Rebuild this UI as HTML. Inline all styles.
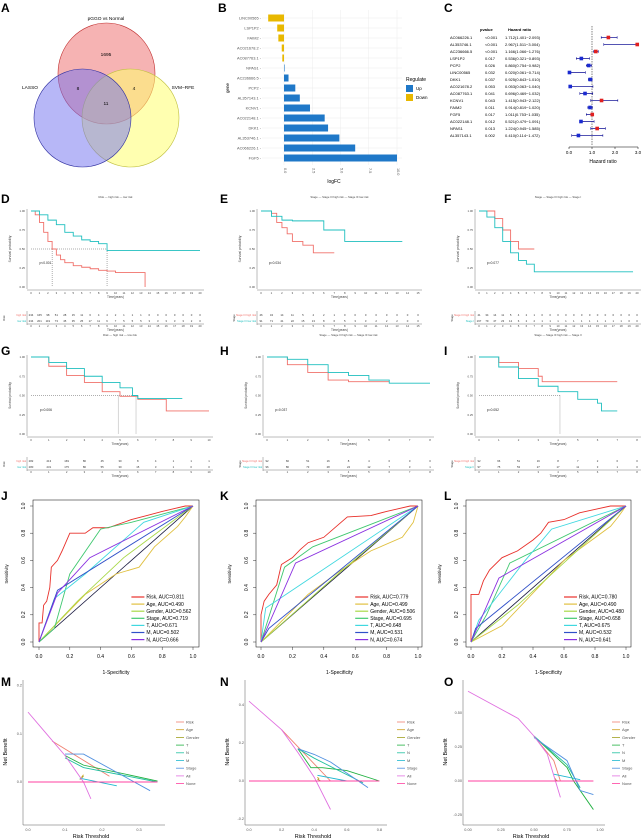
<!DOCTYPE html>
<html><head><meta charset="utf-8"><style>
body{margin:0;background:#fff}
svg{display:block;font-family:"Liberation Sans",sans-serif}
</style></head><body>
<svg id="fig" width="644" height="840" viewBox="0 0 644 840">
<g font-weight="bold" font-size="12">
<text x="1" y="12">A</text><text x="218" y="12">B</text><text x="444" y="12">C</text>
<text x="1" y="203">D</text><text x="220" y="203">E</text><text x="444" y="203">F</text>
<text x="1" y="355">G</text><text x="220" y="355">H</text><text x="444" y="355">I</text>
<text x="1" y="500">J</text><text x="220" y="500">K</text><text x="444" y="500">L</text>
<text x="1" y="686">M</text><text x="220" y="686">N</text><text x="444" y="686">O</text>
</g>
<g>
<ellipse cx="106.5" cy="73.5" rx="48.5" ry="50.5" fill="#f08080" fill-opacity="0.6" stroke="#c03030" stroke-width="0.6"/>
<ellipse cx="130.5" cy="118" rx="48.5" ry="49" fill="#ffff70" fill-opacity="0.55" stroke="#c0c040" stroke-width="0.6"/>
<ellipse cx="82.5" cy="118" rx="48.5" ry="49" fill="#7070f0" fill-opacity="0.5" stroke="#3030a0" stroke-width="0.6"/>
<g font-size="4.8" text-anchor="middle">
<text x="106" y="20">pGGO vs Normal</text><text x="106" y="56">1695</text>
<text x="30" y="89">LASSO</text><text x="183" y="89">SVM−RFE</text>
<text x="78" y="90">8</text><text x="134" y="90">4</text><text x="106" y="105">11</text>
</g></g>
<g id="pB"></g>
<g id="pC"></g>
<g id="km"></g>
<g id="roc"></g>
<g id="dca"></g>
</svg>
<script>
const NS="http://www.w3.org/2000/svg";
function mk(p,t,a,txt){const e=document.createElementNS(NS,t);for(const k in a)e.setAttribute(k,a[k]);if(txt!==undefined)e.textContent=txt;p.appendChild(e);return e;}

// ---- B data
const bGenes=["LINC00565","LSP1P2","FAIM2","AC021678.2","AC087763.1","NPAS1","AC236666.5","PCP2","AL357143.1","KCNV1","AC022148.1","DKK1","AL353746.1","AC066226.1","FGF5"];
const bLogFC=[-1.4,-0.6,-0.5,-0.2,-0.15,0.05,0.4,1.0,1.4,2.3,3.6,3.9,4.9,6.3,10];
const bTicks=[0,2.5,5,7.5,10];
// ---- C data
const cGenes=["AC066226.1","AL353746.1","AC236666.5","LSP1P2","PCP2","LINC00565","DKK1","AC021678.2","AC087763.1","KCNV1","FAIM2","FGF5","AC022148.1","NPAS1","AL357143.1"];
const cP=["<0.001","<0.001","<0.001","0.017","0.026","0.032","0.037","0.053","0.041","0.043","0.011","0.017","0.012","0.013","0.002"];
const cHR=[1.712,2.967,1.166,0.536,0.860,0.020,0.925,0.053,0.696,1.415,0.914,1.011,0.521,1.224,0.410];
const cLo=[1.401,1.511,1.066,0.321,0.754,0.061,0.843,0.063,0.469,0.943,0.819,0.753,0.479,0.945,0.114];
const cHi=[2.093,3.004,1.276,0.893,0.982,0.714,1.010,1.040,1.032,2.122,1.020,1.035,1.091,1.585,1.472];
const cTicks=[0,1,2,3];

(function(){
 const g=document.getElementById("pB");
 const x0=284,sx=11.3,y0=18,step=10;
 const X=v=>x0+v*sx;
 bTicks.forEach(t=>{mk(g,"line",{x1:X(t),x2:X(t),y1:10,y2:165,stroke:"#ececec","stroke-width":0.5});
  mk(g,"text",{x:X(t),y:168,"font-size":3.8,fill:"#555",transform:`rotate(90 ${X(t)} 168)`},t.toFixed(1));});
 bGenes.forEach((n,i)=>{const y=y0+i*step;const v=bLogFC[i];
  mk(g,"line",{x1:262,x2:402,y1:y,y2:y,stroke:"#ececec","stroke-width":0.5});
  const r=mk(g,"rect",{x:Math.min(X(0),X(v)),y:y-3.5,width:Math.abs(v*sx),height:7,fill:v>0?"#1f78c8":"#e8b800"});
  
  
  mk(g,"text",{x:261,y:y+1.4,"font-size":3.9,fill:"#555","text-anchor":"end"},n+" -");});
 mk(g,"text",{x:334,y:183,"font-size":5,"text-anchor":"middle"},"logFC");
 mk(g,"text",{x:229,y:88,"font-size":4.5,"text-anchor":"middle",transform:"rotate(-90 229 88)"},"gene");
 mk(g,"text",{x:406,y:81,"font-size":5},"Regulate");
 mk(g,"rect",{x:406,y:85,width:7,height:7,fill:"#1f78c8"});mk(g,"text",{x:416,y:90,"font-size":4.5},"Up");
 mk(g,"rect",{x:406,y:94,width:7,height:7,fill:"#e8b800"});mk(g,"text",{x:416,y:99,"font-size":4.5},"Down");
})();

(function(){
 const g=document.getElementById("pC");
 const X=v=>569+v*23,y0=37.5,st=7;
 mk(g,"text",{x:480,y:31,"font-size":4,"font-weight":"bold"},"pvalue");
 mk(g,"text",{x:508,y:31,"font-size":4,"font-weight":"bold"},"Hazard ratio");
 mk(g,"line",{x1:X(1),x2:X(1),y1:26,y2:146,stroke:"#333","stroke-width":0.6,"stroke-dasharray":"1.5,1"});
 cGenes.forEach((n,i)=>{const y=y0+i*st;
  mk(g,"text",{x:450,y:y+1.4,"font-size":4},n);
  mk(g,"text",{x:485,y:y+1.4,"font-size":4},cP[i]);
  mk(g,"text",{x:505,y:y+1.4,"font-size":4},cHR[i].toFixed(3)+"("+cLo[i].toFixed(3)+"−"+cHi[i].toFixed(3)+")");
  mk(g,"line",{x1:X(cLo[i]),x2:X(cHi[i]),y1:y,y2:y,stroke:"#1a1a9a","stroke-width":0.8});
  mk(g,"line",{x1:X(cLo[i]),x2:X(cLo[i]),y1:y-1.3,y2:y+1.3,stroke:"#1a1a9a","stroke-width":0.6});
  mk(g,"line",{x1:X(cHi[i]),x2:X(cHi[i]),y1:y-1.3,y2:y+1.3,stroke:"#1a1a9a","stroke-width":0.6});
  const c=mk(g,"rect",{x:X(cHR[i])-1.8,y:y-1.8,width:3.6,height:3.6,fill:cHR[i]>1?"#e02020":"#1a2ad0"});
  
  });
 mk(g,"line",{x1:X(0),x2:X(3),y1:147,y2:147,stroke:"#000","stroke-width":0.6});
 cTicks.forEach(t=>{mk(g,"line",{x1:X(t),x2:X(t),y1:147,y2:149,stroke:"#000","stroke-width":0.5});
  mk(g,"text",{x:X(t),y:154,"font-size":4.5,"text-anchor":"middle"},t.toFixed(1));});
 mk(g,"text",{x:603,y:163,"font-size":5,"text-anchor":"middle"},"Hazard ratio");
})();

// ---- KM data: [time, survival] steps
const kmD_hi=[[0,1],[0.5,0.95],[1,0.85],[1.5,0.72],[2,0.6],[2.5,0.5],[3,0.42],[3.5,0.36],[4,0.32],[5,0.28],[6,0.26],[7,0.24],[8,0.22],[9,0.21],[10,0.19],[13.5,0.19],[13.5,0]];
const kmD_lo=[[0,1],[1,0.95],[2,0.88],[3,0.82],[4,0.72],[5,0.67],[6,0.62],[7,0.6],[8,0.57],[9,0.48],[20,0.48]];
const kmE_hi=[[0,1],[1,0.97],[1.5,0.85],[2,0.78],[2.5,0.7],[3,0.6],[4,0.55],[5,0.45],[7,0.45]];
const kmE_lo=[[0,1],[1,0.93],[2,0.88],[3,0.87],[6,0.75],[8,0.6],[13.5,0.6]];
const kmF_hi=[[0,1],[1,1],[2,0.9],[3,0.75],[4,0.6],[5,0.5],[7,0.5]];
const kmF_lo=[[0,1],[1,0.92],[2,0.78],[3,0.6],[4,0.45],[5,0.35],[6,0.3],[7,0.2],[19.5,0.2]];
const kmG_hi=[[0,1],[1,0.88],[2,0.76],[3,0.67],[4,0.55],[5,0.49],[6,0.45],[7.5,0.45],[7.6,0.3],[10,0.3]];
const kmG_lo=[[0,1],[1,0.93],[2,0.85],[3,0.75],[4,0.67],[5,0.6],[5.7,0.5],[6,0.46],[8.5,0.46]];
const kmH_hi=[[0,1],[1,0.9],[2,0.8],[3,0.7],[4,0.68],[6,0.68]];
const kmH_lo=[[0,1],[1,0.97],[2,0.9],[3,0.8],[4,0.76],[5,0.7],[6,0.66],[8,0.66]];
const kmI_hi=[[0,1],[1,0.93],[2,0.85],[3,0.75],[3.2,0.68],[7,0.68]];
const kmI_lo=[[0,1],[1,0.87],[2,0.72],[3,0.62],[4,0.55],[5,0.45],[6,0.4],[6.2,0.3],[7,0.3]];
const riskD_hi=[234,165,98,51,28,15,11,6,4,4,2,1,1,1,0,0,0,0,0,0,0];
const riskD_lo=[234,201,119,73,45,35,25,17,11,6,7,5,5,5,3,3,3,3,3,2,0];
const riskE_hi=[46,34,14,11,5,4,2,1,0,0,0,0,0,0,0,0];
const riskE_lo=[91,71,41,22,15,13,8,6,5,3,3,2,2,2,0,0];
const riskF_hi=[41,34,14,11,5,4,2,1,0,0,0,0,0,0,0,0,0,0,0,0,0];
const riskF_lo=[167,79,47,23,12,6,2,2,1,1,1,1,1,1,1,1,1,1,1,0,0];
const riskG_hi=[282,213,169,86,45,30,8,4,1,1,1];
const riskG_lo=[280,231,175,86,55,30,15,3,1,0,0];
const riskH_hi=[92,66,51,16,8,4,0,0,0];
const riskH_lo=[96,86,73,28,24,12,7,3,1];
const riskI_hi=[92,66,51,16,8,7,2,0,0];
const riskI_lo=[97,75,53,27,17,11,3,1,0];
const kmP=["p<0.001","p=0.034","p=0.077","p=0.006","p=0.037","p=0.052"];
const kmMed=[[2.5,9],[],[],[4.9,5.9],[],[4.1]];

(function(){
 const g=document.getElementById("km");
 const RED="#f0706a",TEAL="#1fbfbf";
 const P=[
  {n:"D",xa:31,xb:200,tmax:20,yt:211,yb:287,hi:kmD_hi,lo:kmD_lo,rh:riskD_hi,rl:riskD_lo,rt:315,lab:["high risk","low risk"],st:"Risk"},
  {n:"E",xa:261,xb:418,tmax:15,yt:211,yb:287,hi:kmE_hi,lo:kmE_lo,rh:riskE_hi,rl:riskE_lo,rt:315,lab:["Stage III high risk","Stage III low risk"],st:"Stage"},
  {n:"F",xa:479,xb:637,tmax:20,yt:211,yb:287,hi:kmF_hi,lo:kmF_lo,rh:riskF_hi,rl:riskF_lo,rt:315,lab:["Stage III high risk","Stage I"],st:"Stage"},
  {n:"G",xa:31,xb:209,tmax:10,yt:357,yb:434,hi:kmG_hi,lo:kmG_lo,rh:riskG_hi,rl:riskG_lo,rt:461,lab:["high risk","low risk"],st:"Risk"},
  {n:"H",xa:267,xb:430,tmax:8,yt:357,yb:434,hi:kmH_hi,lo:kmH_lo,rh:riskH_hi,rl:riskH_lo,rt:461,lab:["Stage III high risk","Stage III low risk"],st:"Stage"},
  {n:"I",xa:479,xb:637,tmax:8,yt:357,yb:434,hi:kmI_hi,lo:kmI_lo,rh:riskI_hi,rl:riskI_lo,rt:461,lab:["Stage III high risk","Stage II"],st:"Stage"}];
 P.forEach((p,pi)=>{
  const X=t=>p.xa+t/p.tmax*(p.xb-p.xa),Y=s=>p.yb-s*(p.yb-p.yt);
  const lg=p.yt-(pi<3?13:21);
  const cx=(p.xa+p.xb)/2;
  mk(g,"text",{x:cx,y:lg,"font-size":2.8,"text-anchor":"middle",fill:"#444"},p.st+"  — "+p.lab[0]+"  — "+p.lab[1]);
  [0,0.25,0.5,0.75,1].forEach(s=>mk(g,"text",{x:p.xa-6,y:Y(s)+1,"font-size":2.8,"text-anchor":"end",fill:"#444"},s.toFixed(2)));
  mk(g,"text",{x:p.xa-20,y:(p.yt+p.yb)/2,"font-size":3.2,"text-anchor":"middle",fill:"#444",transform:`rotate(-90 ${p.xa-20} ${(p.yt+p.yb)/2})`},"Survival probability");
  mk(g,"line",{x1:p.xa-4,x2:p.xa-4,y1:p.yt-2,y2:p.yb+2,stroke:"#555","stroke-width":0.4});
  mk(g,"line",{x1:p.xa-4,x2:p.xb+4,y1:p.yb+3,y2:p.yb+3,stroke:"#555","stroke-width":0.4});
  for(let t=0;t<=p.tmax;t++){mk(g,"text",{x:X(t),y:p.yb+7,"font-size":2.8,"text-anchor":"middle",fill:"#444"},t);
   mk(g,"text",{x:X(t),y:p.rt+12,"font-size":2.8,"text-anchor":"middle",fill:"#444"},t);}
  mk(g,"text",{x:cx,y:p.yb+11,"font-size":3.2,"text-anchor":"middle",fill:"#444"},"Time(years)");
  mk(g,"text",{x:cx,y:p.rt+16,"font-size":3.2,"text-anchor":"middle",fill:"#444"},"Time(years)");
  mk(g,"text",{x:X(p.tmax*0.05),y:Y(0.3),"font-size":3.3,fill:"#222"},kmP[pi]);
  if(kmMed[pi].length){mk(g,"line",{x1:X(0),x2:X(Math.max(...kmMed[pi])),y1:Y(0.5),y2:Y(0.5),stroke:"#333","stroke-width":0.4,"stroke-dasharray":"1,1"});
   kmMed[pi].forEach(m=>mk(g,"line",{x1:X(m),x2:X(m),y1:Y(0.5),y2:p.yb,stroke:"#333","stroke-width":0.4,"stroke-dasharray":"1,1"}));}
  [[p.hi,RED,"high"],[p.lo,TEAL,"low"]].forEach(([d,c,k])=>{
   let s=`M${X(d[0][0])},${Y(d[0][1])}`;
   for(let i=1;i<d.length;i++)s+=`H${X(d[i][0])}V${Y(d[i][1])}`;
   const pa=mk(g,"path",{d:s,fill:"none",stroke:c,"stroke-width":0.9});
   
   });
  mk(g,"line",{x1:p.xa-4,x2:p.xa-4,y1:p.rt-4,y2:p.rt+10,stroke:"#555","stroke-width":0.4});
  mk(g,"line",{x1:p.xa-4,x2:p.xb+4,y1:p.rt+9,y2:p.rt+9,stroke:"#555","stroke-width":0.4});
  mk(g,"text",{x:p.xa-26,y:p.rt+3,"font-size":2.8,"text-anchor":"middle",fill:"#333",transform:`rotate(-90 ${p.xa-26} ${p.rt+3})`},p.st);
  mk(g,"text",{x:p.xa-5,y:p.rt+1,"font-size":2.6,"text-anchor":"end",fill:RED},p.lab[0]);
  mk(g,"text",{x:p.xa-5,y:p.rt+7,"font-size":2.6,"text-anchor":"end",fill:TEAL},p.lab[1]);
  p.rh.forEach((v,i)=>mk(g,"text",{x:X(i),y:p.rt+1,"font-size":2.8,"text-anchor":"middle",fill:"#333"},v));
  p.rl.forEach((v,i)=>mk(g,"text",{x:X(i),y:p.rt+7,"font-size":2.8,"text-anchor":"middle",fill:"#333"},v));
 });
})();

// ---- ROC data: [fpr,tpr]
const rocNames=["Risk","Age","Gender","Stage","T","M","N"];
const rocColors=["#e8302a","#e0c040","#a8d848","#40c870","#40d8e0","#3050c8","#8a30e0"];
const aucJ=[0.811,0.490,0.562,0.719,0.671,0.502,0.666];
const aucK=[0.779,0.499,0.506,0.695,0.648,0.531,0.674];
const aucL=[0.780,0.490,0.480,0.658,0.675,0.532,0.641];
const rocJ=[
 [[0,0],[0,0.14],[0.02,0.14],[0.03,0.27],[0.05,0.3],[0.07,0.4],[0.08,0.55],[0.12,0.6],[0.15,0.67],[0.2,0.8],[0.3,0.8],[0.35,0.84],[0.45,0.84],[0.6,0.9],[0.7,0.93],[0.8,0.96],[0.95,1],[1,1]],
 [[0,0],[0.3,0.35],[0.5,0.5],[0.65,0.55],[0.75,0.7],[0.9,0.85],[0.95,0.92],[1,1]],
 [[0,0],[0.25,0.3],[0.55,0.62],[1,1]],
 [[0,0],[0.1,0.1],[0.2,0.5],[0.4,0.83],[0.6,0.88],[1,1]],
 [[0,0],[0.1,0.32],[0.3,0.5],[0.68,0.88],[1,1]],
 [[0,0],[0.12,0.38],[1,1]],
 [[0,0],[0.12,0.36],[0.33,0.62],[1,1]]];
const rocK=[
 [[0,0],[0,0.2],[0.02,0.3],[0.05,0.35],[0.1,0.42],[0.13,0.57],[0.2,0.62],[0.25,0.68],[0.3,0.73],[0.4,0.77],[0.5,0.87],[0.55,0.92],[0.7,0.93],[0.8,0.96],[0.95,1],[1,1]],
 [[0,0],[0.3,0.35],[0.5,0.52],[0.7,0.67],[0.9,0.77],[0.97,0.88],[1,1]],
 [[0,0],[0.5,0.51],[1,1]],
 [[0,0],[0.15,0.55],[0.33,0.7],[1,1]],
 [[0,0],[0.03,0.25],[0.25,0.42],[1,1]],
 [[0,0],[0.05,0.1],[1,1]],
 [[0,0],[0.22,0.58],[1,1]]];
const rocL=[
 [[0,0],[0,0.35],[0.05,0.35],[0.08,0.45],[0.12,0.53],[0.2,0.62],[0.3,0.67],[0.4,0.75],[0.45,0.8],[0.5,0.88],[0.6,0.9],[0.7,0.95],[0.9,1],[1,1]],
 [[0,0],[0.2,0.12],[0.6,0.6],[0.9,0.85],[0.95,0.92],[1,1]],
 [[0,0],[0.3,0.27],[1,1]],
 [[0,0],[0.1,0.2],[0.25,0.58],[1,1]],
 [[0,0],[0.05,0.16],[0.35,0.6],[0.52,0.83],[1,1]],
 [[0,0],[0.03,0.1],[1,1]],
 [[0,0],[0.18,0.47],[1,1]]];
(function(){
 const g=document.getElementById("roc");
 const P=[{n:"J",bx:33,bw:166,x0:39,x1:193,d:rocJ,a:aucJ},{n:"K",bx:256,bw:166,x0:261,x1:418,d:rocK,a:aucK},{n:"L",bx:466,bw:165,x0:471,x1:626,d:rocL,a:aucL}];
 const yt=506,yb=642;
 P.forEach(p=>{
  const X=v=>p.x0+v*(p.x1-p.x0),Y=v=>yb-v*(yb-yt);
  mk(g,"rect",{x:p.bx,y:500,width:p.bw,height:147,fill:"none",stroke:"#000","stroke-width":0.5});
  [0,0.2,0.4,0.6,0.8,1].forEach(t=>{
   mk(g,"line",{x1:X(t),x2:X(t),y1:647,y2:650,stroke:"#000","stroke-width":0.4});
   mk(g,"text",{x:X(t),y:658,"font-size":5,"text-anchor":"middle"},t.toFixed(1));
   mk(g,"line",{x1:p.bx,x2:p.bx-3,y1:Y(t),y2:Y(t),stroke:"#000","stroke-width":0.4});
   mk(g,"text",{x:p.bx-8,y:Y(t),"font-size":5,"text-anchor":"middle",transform:`rotate(-90 ${p.bx-8} ${Y(t)})`},t.toFixed(1));});
  mk(g,"text",{x:(p.x0+p.x1)/2,y:674,"font-size":5,"text-anchor":"middle"},"1-Specificity");
  mk(g,"text",{x:p.bx-25,y:574,"font-size":4.3,"text-anchor":"middle",transform:`rotate(-90 ${p.bx-25} 574)`},"Sensitivity");
  mk(g,"line",{x1:X(0),y1:Y(0),x2:X(1),y2:Y(1),stroke:"#1a1a40","stroke-width":0.8});
  p.d.forEach((s,i)=>{
   const pl=mk(g,"polyline",{points:s.map(q=>X(q[0])+","+Y(q[1])).join(" "),fill:"none",stroke:rocColors[i],"stroke-width":0.9});
   
   
   const ly=597+i*7.1,lx=X(0.6);
   mk(g,"line",{x1:lx,x2:lx+13,y1:ly,y2:ly,stroke:rocColors[i],"stroke-width":1.2});
   mk(g,"text",{x:lx+15,y:ly+1.7,"font-size":5},rocNames[i]+", AUC="+p.a[i].toFixed(3));});
 });
})();

// ---- DCA data: [threshold, net benefit]
const dcaNames=["Risk","Age","Gender","T","N","M","Stage","All","None"];
const dcaColors=["#f08070","#d0a020","#a0a020","#20b040","#20c0a0","#20b8d0","#5090e0","#e070e0","#ff40a0"];
const dcaM=[[[0.065,0.085],[0.22,0.012]],[[0.145,0.01],[0.15,0.015]],[[0.14,0.005],[0.15,0.012]],[[0.1,0.055],[0.15,0.035],[0.35,0.002]],[[0.1,0.05],[0.15,0.03],[0.35,0]],[[0.14,0.008],[0.24,-0.008]],[[0.1,0.058],[0.15,0.058],[0.33,-0.018]],[[0,0.145],[0.05,0.1],[0.1,0.055],[0.15,0],[0.17,-0.035]],[[0,0],[0.35,0]]];
const dcaN=[[[0.2,0.27],[0.5,0.0]],[[0.42,0.02],[0.43,0.01]],[[0.42,0.01],[0.44,0]],[[0.3,0.17],[0.38,0.07],[0.45,0.07],[0.6,0.055],[0.8,0]],[[0.3,0.17],[0.4,0.12],[0.7,-0.01]],[[0.42,0.03],[0.6,0]],[[0.3,0.17],[0.4,0.14],[0.5,0.1],[0.73,-0.035]],[[0,0.42],[0.2,0.27],[0.3,0.15],[0.4,0.02],[0.5,-0.15]],[[0,0],[0.8,0]]];
const dcaO=[[[0.5,0.33],[0.65,0.15],[0.7,0]],[[0.66,0.02],[0.67,0]],[[0.66,0.01],[0.68,0]],[[0.5,0.33],[0.75,0.1],[0.8,0],[0.95,-0.21]],[[0.5,0.33],[0.75,0.12],[0.85,-0.05]],[[0.65,0.05],[0.85,0.01]],[[0.5,0.32],[0.75,0.15],[0.85,-0.07],[0.95,-0.1]],[[0,0.66],[0.38,0.46],[0.5,0.33],[0.6,0.2],[0.7,-0.12]],[[0,0],[0.95,0]]];
(function(){
 const g=document.getElementById("dca");
 const P=[{n:"M",ax:23,x0:28,sx:370,xt:[0,0.1,0.2,0.3],xf:1,y0:782,sy:482,yt:[0,0.1,0.2],yf:1,d:dcaM,lx:176},
  {n:"N",ax:245,x0:249,sx:163,xt:[0,0.2,0.4,0.6,0.8],xf:1,y0:781,sy:190,yt:[-0.2,0,0.2,0.4],yf:1,d:dcaN,lx:397},
  {n:"O",ax:463,x0:468,sx:132,xt:[0,0.25,0.5,0.75,1],xf:2,y0:781,sy:136,yt:[-0.25,0,0.25,0.5],yf:2,d:dcaO,lx:612}];
 P.forEach(p=>{
  const X=v=>p.x0+v*p.sx,Y=v=>p.y0-v*p.sy;
  mk(g,"line",{x1:p.ax,x2:p.ax,y1:680,y2:825,stroke:"#333","stroke-width":0.4});
  mk(g,"line",{x1:p.ax,x2:p.ax+142,y1:825,y2:825,stroke:"#333","stroke-width":0.4});
  p.xt.forEach(t=>mk(g,"text",{x:X(t),y:831,"font-size":3.8,"text-anchor":"middle",fill:"#555"},t.toFixed(p.xf)));
  p.yt.forEach(t=>mk(g,"text",{x:p.ax-1,y:Y(t)+1,"font-size":3.8,"text-anchor":"end",fill:"#555"},t.toFixed(p.yf)));
  mk(g,"text",{x:p.ax+68,y:838,"font-size":5.5,"text-anchor":"middle"},"Risk Threshold");
  mk(g,"text",{x:p.ax-16,y:752,"font-size":5.5,"text-anchor":"middle",transform:`rotate(-90 ${p.ax-16} 752)`},"Net Benefit");
  p.d.forEach((s,i)=>{
   const pl=mk(g,"polyline",{points:s.map(q=>X(q[0])+","+Y(q[1])).join(" "),fill:"none",stroke:dcaColors[i],"stroke-width":0.9});
   
   
   const ly=722+i*7.7;
   mk(g,"line",{x1:p.lx,x2:p.lx+8,y1:ly,y2:ly,stroke:dcaColors[i],"stroke-width":0.8});
   mk(g,"text",{x:p.lx+10,y:ly+1.4,"font-size":4,fill:"#555"},dcaNames[i]);});
 });
})();
</script>
</body></html>
